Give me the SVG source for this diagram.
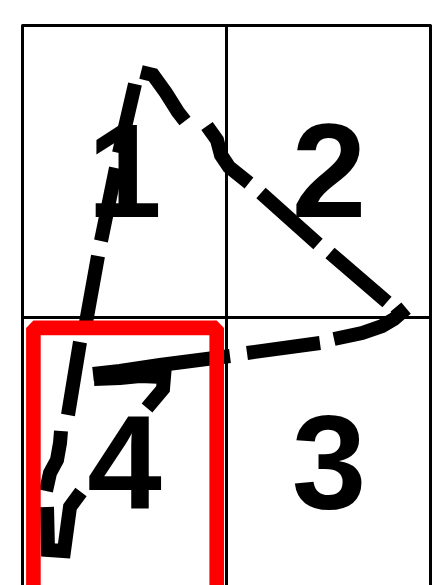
<svg xmlns="http://www.w3.org/2000/svg" width="446" height="585" viewBox="0 0 446 585">
  <style>
    .grid { fill: none; stroke: #000; stroke-width: 3; stroke-linejoin: round; }
    .num { font-family: "Liberation Sans", Arial, sans-serif; font-weight: bold; font-size: 134px; fill: #000; text-anchor: middle; }
    .dash { fill: none; stroke: #000; stroke-width: 14; stroke-linecap: butt; stroke-linejoin: miter; stroke-miterlimit: 4; }
    .sel { fill: none; stroke: #ff0000; stroke-width: 14.6; stroke-linejoin: bevel; }
  </style>
  <rect width="446" height="585" fill="#fff"/>
  <g id="grid">
    <path class="grid" d="M22.5,600 V25.5 H430.5 V600 M226.5,25.5 V600 M22.5,317.5 H430.5"/>
  </g>
  <g id="cell1"><text class="num" x="124.5" y="217">1</text></g>
  <g id="cell2"><text class="num" x="329" y="217">2</text></g>
  <g id="cell3"><text class="num" x="329" y="509">3</text></g>
  <g id="cell4"><text class="num" x="124.5" y="509">4</text></g>
  <g id="stroke">
    <path class="dash" d="M93,374 L120,371 L140,368 L160,365 L230,356
      M247,353 L320,343
      M334,339 L362,333 L382,326 L394,319 L401,313 L396,307
      M387,302 L330,253
      M318,244 L261,193
      M249,183 L229,167 L221,155 L217,140 L207,126
      M185,121 L178,112 L166,93 L153,75 L141,72
      M135,84 L119,153
      M116,168 L101,241
      M98,256 L85,328
      M80,342 L68,415
      M61,431 L60,443 L57,460 L50,473 L46,491
      M47,507 L48,550 L64,551 L70,507 L81,492
      M147,408 L163,389 L164,377 L140,376 L120,378 L94,379"/>
  </g>
  <g id="selection">
    <rect class="sel" x="33.4" y="327.9" width="183.3" height="300"/>
  </g>
</svg>
